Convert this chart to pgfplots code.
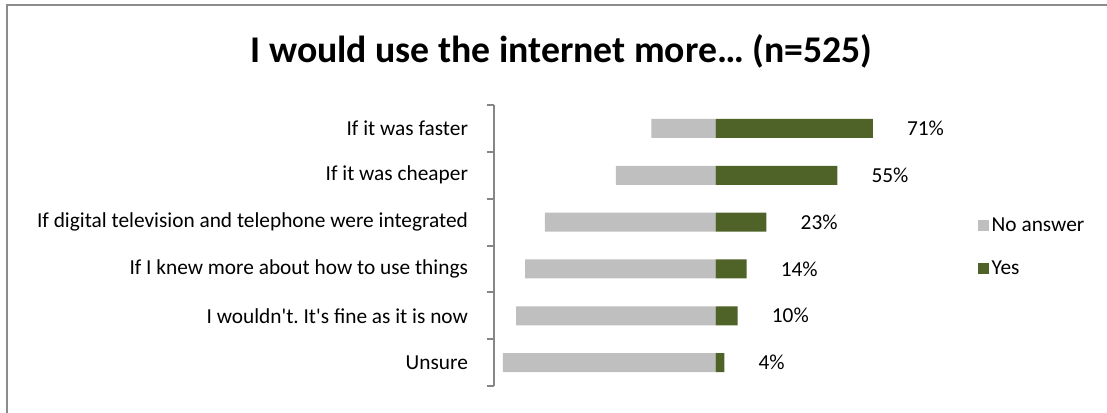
\documentclass[border=0pt]{standalone}
\usepackage{pgfplots}
\pgfplotsset{compat=1.18}
\usepackage{pgfplotstable}
\usepackage{fontspec}
\setmainfont{Carlito}
\frenchspacing
\definecolor{naGray}{HTML}{BFBFBF}
\definecolor{yesGreen}{HTML}{4F6228}
\definecolor{axGray}{HTML}{868686}
\definecolor{frameGray}{HTML}{8C8C8C}
\pgfplotstableread{
y yes no
5 71 -29
4 55 -45
3 23 -77
2 14 -86
1 10 -90
0 4 -96
}\datatable
\begin{document}
\begin{tikzpicture}[x=0.75pt,y=-0.75pt]
\path[use as bounding box] (0,0) rectangle (1107,412);
\draw[frameGray, line width=1.5pt] (7,5) rectangle (1140,450);
\node[anchor=base, font=\fontsize{28.3}{34}\selectfont\bfseries] at (561.5,62.3) {I would use the internet more… (n=525)};
\begin{axis}[
  at={(370.5pt,-289.5pt)}, anchor=south west,
  scale only axis, width=332.25pt, height=210.75pt,
  xmin=-100, xmax=100, ymin=-0.5, ymax=5.5,
  axis x line=none, axis y line*=left,
  axis line style={-, axGray, line width=1.5pt},
  ytick={0,...,5},
  yticklabels={Unsure, I wouldn\textquotesingle t. It\textquotesingle s fine as it is now, If I knew more about how to use things, If digital television and telephone were integrated, If it was cheaper, If it was faster},
  major tick length=0pt,
  minor ytick={-0.5,0.5,...,5.5},
  minor tick length=5.25pt,
  tick align=outside,
  every tick/.style={axGray, line width=1.5pt},
  yticklabel style={font=\fontsize{16}{19}\selectfont, xshift=-16pt},
  xbar, bar width=14.25pt, bar shift=0pt,
  legend cell align=left,
  legend style={draw=none, fill=none, at={(1.092,0.61)}, anchor=north west,
    font=\fontsize{16}{19}\selectfont, row sep=16.5pt, inner sep=0pt},
  legend image code/.code={\fill[#1] (0pt,-4.1pt) rectangle (8.25pt,4.1pt);},
]
\addplot[fill=naGray, draw=none] table[x=no, y=y] {\datatable};
\addlegendentry{No answer}
\addplot[fill=yesGreen, draw=none,
  nodes near coords={\pgfmathprintnumber[assume math mode=true]{\pgfplotspointmeta}\%},
  nodes near coords style={font=\fontsize{16}{19}\selectfont, anchor=west, inner sep=0pt, xshift=25.5pt, text=black}]
  table[x=yes, y=y] {\datatable};
\addlegendentry{Yes}
\end{axis}
\end{tikzpicture}
\end{document}
